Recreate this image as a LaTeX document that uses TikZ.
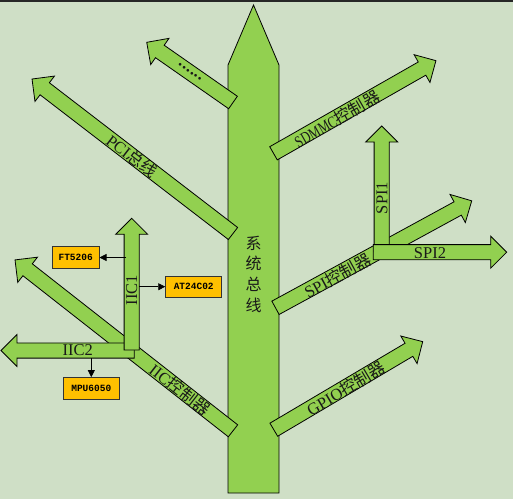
\documentclass[tikz,border=0pt]{standalone}
\usepackage{fontspec}
\usepackage{graphicx}
\setmainfont{Liberation Serif}
\newfontfamily\cjk{Noto Sans CJK SC}
\newfontfamily\monof{Liberation Mono}
\usetikzlibrary{arrows.meta}
\definecolor{bgc}{RGB}{207,223,198}
\definecolor{grn}{RGB}{146,208,80}
\definecolor{boxc}{RGB}{255,192,0}
\tikzset{
  blockarrow/.style={draw=black, fill=grn, line width=0.8pt, line join=miter},
  lbl/.style={font=\fontsize{16.5}{18}\selectfont, inner sep=0pt, text=black!90},
  chip/.style={draw=black!80, fill=boxc, line width=0.9pt, minimum height=21.5pt, inner sep=0pt, font=\monof\bfseries\fontsize{9.5}{11}\selectfont},
  conn/.style={-{Triangle[length=7pt,width=7pt]}, line width=0.7pt}
}
% #1 base point, #2 direction angle, #3 length
\newcommand{\barrow}[3]{%
  \draw[blockarrow, shift={#1}, rotate=#2] (0,-7.6) -- ({#3-16},-7.6) -- ({#3-16},-16) -- (#3,0) -- ({#3-16},16) -- ({#3-16},7.6) -- (0,7.6) -- cycle;}
\begin{document}
\begin{tikzpicture}[x=1pt, y=-1pt]
\useasboundingbox (0,0) rectangle (513,499);
\fill[bgc] (0,0) rectangle (513,499);
\fill[black!85] (0,0) rectangle (513,1.5);
% trunk
\draw[blockarrow] (228,493) -- (228,65) -- (253.5,5) -- (279,65) -- (279,493) -- cycle;
% branches
\barrow{(233,102.5)}{145.1}{105.2}
\barrow{(233,233.5)}{142.45}{253.5}
\barrow{(273.5,153.3)}{29.7}{187}
\barrow{(275.5,307.8)}{28.6}{223.5}
\barrow{(273.8,429.7)}{30.6}{173}
\barrow{(233,430.8)}{141.9}{277}
% SPI1 / SPI2
\barrow{(381.7,252)}{90}{126}
\barrow{(373.3,252.2)}{0}{133.4}
% IIC2 / IIC1
\barrow{(134.3,350.5)}{180}{133.3}
\barrow{(131.7,350)}{90}{131.7}
% labels
\node[lbl, rotate=-34.9, font=\bfseries\fontsize{16.5}{18}\selectfont] (dots) at (190,72) {.\kern0.6pt.\kern0.6pt.\kern0.6pt.\kern0.6pt.\kern0.6pt.};
\node[lbl, rotate=-37.55] (pcil) at (132,156) {PCI{\cjk 总线}};
\node[lbl, rotate=29.7] (sdl) at (337,119) {\scalebox{0.75}[1]{SDMMC}{\cjk 控制器}};
\node[lbl, rotate=28.6] (spil) at (337.5,275.5) {SPI{\cjk 控制器}};
\node[lbl, rotate=30.6] (gpiol) at (345.8,388.5) {GPIO{\cjk 控制器}};
\node[lbl, rotate=-38.1] (iicl) at (180,389.5) {IIC{\cjk 控制器}};
\node[lbl, rotate=90] (spi1l) at (382,198) {SPI1};
\node[lbl] (spi2l) at (430,253) {SPI2};
\node[lbl] (iic2l) at (77.7,350.5) {IIC2};
\node[lbl, rotate=90] (iic1l) at (131.7,290) {IIC1};
\node[lbl, align=center, font=\cjk\fontsize{16}{20.7}\selectfont] (sys) at (253.5,274) {系\\统\\总\\线};
% chips
\node[chip, minimum width=46.7pt] (ft) at (75.7,257.5) {FT5206};
\node[chip, minimum width=56pt] (at) at (193.7,286.7) {AT24C02};
\node[chip, minimum width=56pt] (mpu) at (91.3,388.3) {MPU6050};
\coordinate (iic1w) at (126,257.5);
\coordinate (iic1e) at (139.3,286.7);
\coordinate (iic2s) at (91.3,358.3);
\draw[conn] (iic1w) -- (ft);
\draw[conn] (iic1e) -- (at);
\draw[conn] (iic2s) -- (mpu);
\end{tikzpicture}
\end{document}
